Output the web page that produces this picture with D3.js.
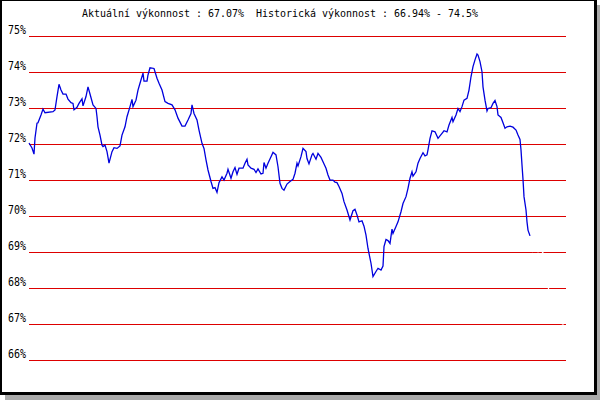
<!DOCTYPE html>
<html>
<head>
<meta charset="utf-8">
<script src="https://cdn.jsdelivr.net/npm/d3@7"></script>
<style>
  html, body { margin: 0; padding: 0; background: #ffffff; }
  svg { display: block; }
</style>
</head>
<body>
<svg id="chart" width="600" height="400"></svg>
<script>
// ---- data ----
const titleText = "Aktuální výkonnost : 67.07%  Historická výkonnost : 66.94% - 74.5%";
const tickValues = [75, 74, 73, 72, 71, 70, 69, 68, 67, 66];
const tickLabels = ["75%", "74%", "73%", "72%", "71%", "70%", "69%", "68%", "67%", "66%"];

// sample position (time step) and performance (%) of the drawn (blue) history
const days = [0,3,5,6,8,9,12,14,16,24,26,28,30,32,34,37,39,42,44,45,48,50,53,54,57,59,61,64,67,68,69,71,73,74,76,78,80,83,85,88,91,93,96,98,101,103,104,107,109,111,114,115,118,119,121,125,128,130,133,136,139,143,146,149,153,156,159,162,163,165,168,170,173,175,177,179,182,184,186,188,190,193,195,198,199,202,204,206,208,210,214,216,218,219,222,225,227,229,232,234,235,237,239,242,244,247,249,251,253,255,258,261,264,266,268,269,272,274,277,278,280,283,284,287,289,292,294,297,299,301,304,306,308,310,313,315,318,321,324,326,328,330,333,335,337,339,342,344,347,349,352,354,355,357,359,361,363,364,367,369,372,374,377,379,381,383,384,387,389,391,394,396,398,399,401,403,406,409,413,415,418,420,423,424,427,429,431,433,435,438,440,442,444,446,448,449,451,453,454,456,458,459,462,464,466,468,469,472,474,476,478,481,484,487,489,491,492,493,494,495,497,498,499,501];
const performance = [72.00,71.86,71.69,72.14,72.55,72.56,72.78,72.94,72.84,72.87,72.92,73.29,73.63,73.47,73.36,73.36,73.22,73.12,73.10,72.92,72.99,73.10,73.23,73.03,73.29,73.56,73.36,73.06,72.96,72.73,72.45,72.22,71.94,71.90,71.94,71.76,71.44,71.76,71.87,71.85,71.92,72.22,72.45,72.73,73.01,73.21,73.01,73.19,73.47,73.66,73.94,73.72,73.72,73.89,74.09,74.07,73.80,73.66,73.47,73.15,73.10,73.06,72.92,72.69,72.47,72.47,72.64,72.82,73.06,72.82,72.64,72.36,71.99,71.85,71.53,71.25,70.93,70.74,70.76,70.63,70.90,71.06,70.97,71.16,71.27,71.02,71.20,71.32,71.13,71.30,71.30,71.44,71.55,71.39,71.30,71.27,71.18,71.28,71.14,71.16,71.46,71.30,71.44,71.62,71.74,71.67,71.34,70.88,70.74,70.69,70.86,70.93,70.99,71.16,71.44,71.36,71.62,71.85,71.76,71.57,71.42,71.67,71.71,71.55,71.71,71.60,71.48,71.30,71.11,70.97,70.97,70.91,70.90,70.79,70.60,70.37,70.14,69.86,70.12,70.16,70.00,69.81,69.84,69.69,69.44,69.07,68.66,68.29,68.43,68.52,68.47,68.58,69.12,69.32,69.29,69.21,69.61,69.49,69.68,69.81,70.09,70.32,70.51,70.74,71.02,71.20,71.08,71.20,71.44,71.57,71.73,71.64,71.67,71.81,72.13,72.34,72.31,72.13,72.27,72.34,72.31,72.50,72.71,72.59,72.78,72.96,72.87,73.01,73.19,73.24,73.47,73.84,74.12,74.31,74.47,74.44,74.26,73.98,73.56,73.19,72.89,72.96,72.98,73.10,73.18,73.01,72.78,72.71,72.56,72.41,72.45,72.47,72.44,72.36,72.22,72.10,71.81,71.39,70.99,70.51,70.14,69.81,69.58,69.42];

// continuation drawn in white (only visible where it crosses the grid)
const tailDays = [501,504,506,509,511,514,519,525,532,534,536];
const tailPerformance = [69.42,69.00,69.08,68.98,69.06,68.95,68.00,67.50,67.00,66.97,67.07];

const dayDomain = [0, 537];
const valueDomain = [66, 75];

// ---- drawing ----
const svg = d3.select("#chart");

// shadow
svg.append("rect").attr("x", 5).attr("y", 5).attr("width", 595).attr("height", 395).attr("fill", "#aaaaaa");
// frame
svg.append("rect").attr("x", 0).attr("y", 0).attr("width", 597).attr("height", 395).attr("fill", "#000000");
svg.append("rect").attr("x", 2).attr("y", 1).attr("width", 592).attr("height", 391).attr("fill", "#ffffff");

// title
svg.append("text")
  .attr("x", 82).attr("y", 17)
  .attr("textLength", 396).attr("lengthAdjust", "spacingAndGlyphs")
  .attr("font-family", "DejaVu Sans Mono, monospace")
  .attr("font-size", 10.5)
  .attr("fill", "#000")
  .style("white-space", "pre")
  .attr("xml:space", "preserve")
  .text(titleText);

const x = d3.scaleLinear().domain(dayDomain).range([29, 566]);
const y = d3.scaleLinear().domain(valueDomain).range([359, 35]);

const axis = d3.axisLeft(y)
  .tickValues(tickValues)
  .tickSize(-(566 - 29))
  .tickPadding(3)
  .tickFormat((d, i) => tickLabels[tickValues.indexOf(d)]);

const g = svg.append("g").attr("transform", "translate(29,0.5)").call(axis);
g.select(".domain").remove();
g.selectAll(".tick line")
  .attr("stroke", "#dd0000")
  .attr("stroke-width", 1)
  .attr("shape-rendering", "crispEdges");
g.selectAll(".tick text")
  .attr("x", -3)
  .attr("dy", "-2.5")
  .attr("font-family", "DejaVu Sans Mono, monospace")
  .attr("font-size", 12)
  .attr("textLength", 18)
  .attr("lengthAdjust", "spacingAndGlyphs")
  .attr("fill", "#000");

const line = d3.line()
  .x(d => x(d[0]))
  .y(d => y(d[1]));

svg.append("path")
  .datum(tailDays.map((d, i) => [d, tailPerformance[i]]))
  .attr("d", line)
  .attr("fill", "none")
  .attr("stroke", "#ffffff")
  .attr("stroke-width", 1.2);

svg.append("path")
  .datum(days.map((d, i) => [d, performance[i]]))
  .attr("d", line)
  .attr("fill", "none")
  .attr("stroke", "#0000dd")
  .attr("stroke-width", 1.3);
</script>
</body>
</html>
